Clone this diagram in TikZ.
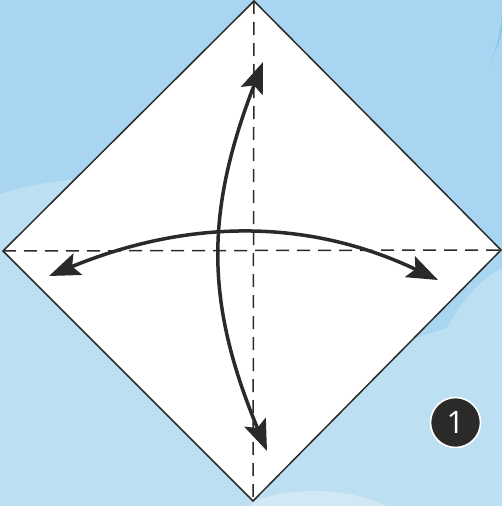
\documentclass[tikz,border=0pt]{standalone}
\usepackage{fontspec}
\newfontfamily\numfont{Open Sans}
\usetikzlibrary{arrows.meta}
\definecolor{skyA}{RGB}{168,214,242}
\definecolor{skyB}{RGB}{188,223,242}
\definecolor{skyC}{RGB}{211,232,245}
\definecolor{skyD}{RGB}{125,197,236}
\definecolor{ink}{RGB}{43,42,40}
\tikzset{
  edge/.style={draw=ink, line width=1.5pt, line join=miter},
  crease/.style={draw=ink, line width=1.5pt, dash pattern=on 13pt off 8pt},
  foldarrow/.style={draw=ink, line width=3.5pt,
    {Stealth[length=31pt,width=23pt,inset=6pt]}-{Stealth[length=31pt,width=23pt,inset=6pt]}},
  stepbadge/.style={circle, fill=ink, draw=white, line width=1.6pt, minimum size=50pt,
    inner sep=0pt, text=white, font=\numfont\fontsize{31}{31}\selectfont}
}
\begin{document}
\begin{tikzpicture}[x=1pt,y=-1pt]
\useasboundingbox (0,0) rectangle (502,506);
% background
\fill[skyA] (0,0) rectangle (502,506);
\fill[skyB] (0,194) .. controls (25,186) and (55,180) .. (95,178) -- (254,251) -- (415,338)
  -- (447,328) .. controls (462,300) and (480,280) .. (502,268) -- (502,506) -- (0,506) -- cycle;
\fill[skyC] (250,506) -- (252,502) .. controls (270,494) and (295,491) .. (315,491)
  .. controls (345,491) and (370,498) .. (385,506) -- cycle;
\fill[skyD] (502,12) .. controls (501,32) and (497,50) .. (489,64) .. controls (496,52) and (500,40) .. (502,30) -- cycle;
% paper
\coordinate (T) at (254,1);
\coordinate (R) at (501,250);
\coordinate (B) at (253,501);
\coordinate (L) at (3,251);
\fill[white] (T) -- (R) -- (B) -- (L) -- cycle;
\draw[crease] (L) -- (R);
\draw[crease] (T) -- (B);
\draw[edge] (T) -- (R) -- (B) -- (L) -- cycle;
% fold arrows
\coordinate (vt) at (263,62);
\coordinate (vb) at (267,451);
\coordinate (hl) at (49,276);
\coordinate (hr) at (438,280);
\draw[foldarrow] (vt) .. controls (206,210) and (204,300) .. (vb);
\draw[foldarrow] (hl) .. controls (190,218) and (310,219) .. (hr);
% step number
\node[stepbadge] (step) at (455.5,422.5) {1};
\end{tikzpicture}
\end{document}
